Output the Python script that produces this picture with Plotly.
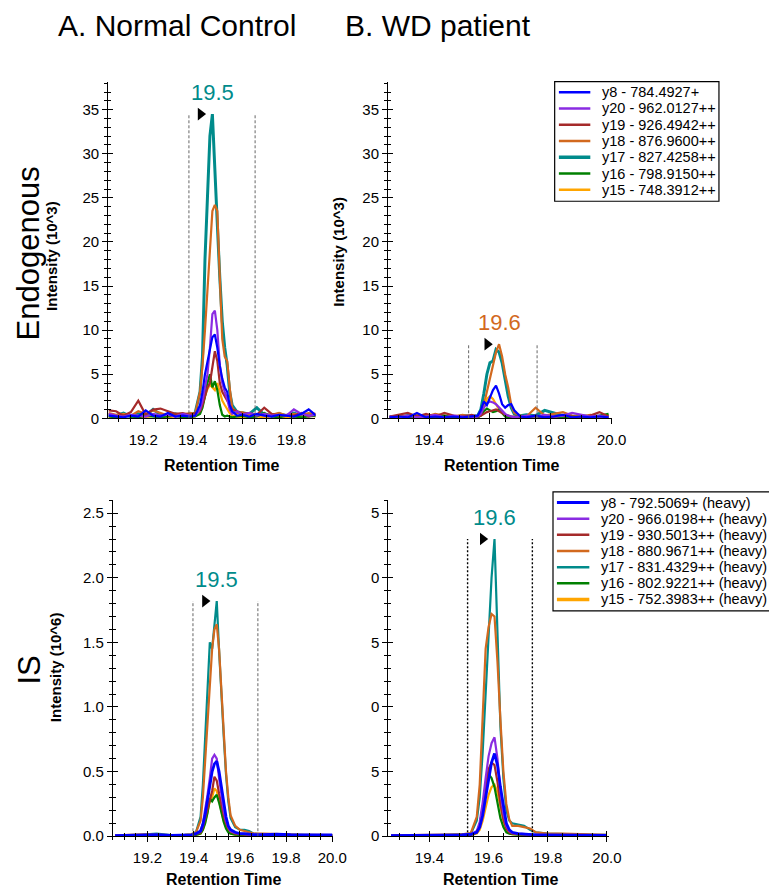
import plotly.graph_objects as go

W, H = 777, 891
FONT = "Arial, Liberation Sans, sans-serif"

# transitions (Skyline colour order)
ions_endo = ["y8 - 784.4927+", "y20 - 962.0127++", "y19 - 926.4942++", "y18 - 876.9600++",
             "y17 - 827.4258++", "y16 - 798.9150++", "y15 - 748.3912++"]
ions_is = ["y8 - 792.5069+ (heavy)", "y20 - 966.0198++ (heavy)", "y19 - 930.5013++ (heavy)",
           "y18 - 880.9671++ (heavy)", "y17 - 831.4329++ (heavy)", "y16 - 802.9221++ (heavy)",
           "y15 - 752.3983++ (heavy)"]
ion_colors = ["#0000FF", "#8A2BE2", "#A52A2A", "#D2691E", "#008B8B", "#008000", "#FFA500"]

# ---- A. Normal control, endogenous (10^3)
endo_nc_time = [19.06, 19.09, 19.12, 19.15, 19.18, 19.21, 19.24, 19.27, 19.30, 19.33, 19.36, 19.39,
                19.41, 19.43, 19.44, 19.45, 19.46, 19.47, 19.48, 19.49, 19.50, 19.51, 19.52, 19.53,
                19.54, 19.55, 19.56, 19.58, 19.60, 19.63, 19.66, 19.69, 19.72, 19.75, 19.78, 19.81,
                19.84, 19.87, 19.90]
endo_nc_y8 = [0.3, 0.2, 0.1, 0.3, 0.2, 0.9, 0.3, 0.2, 0.6, 0.2, 0.3, 0.2,
              0.3, 1.5, 3.0, 5.0, 6.5, 8.0, 9.2, 9.5, 8.0, 6.0, 4.5, 3.5, 3.0, 1.5, 0.8,
              0.3, 0.4, 0.2, 0.5, 0.3, 0.2, 0.4, 0.3, 0.2, 0.5, 1.0, 0.3]
endo_nc_y20 = [0.5, 0.3, 0.2, 0.4, 0.3, 0.2, 0.5, 0.3, 0.4, 0.2, 0.5, 0.3,
               0.3, 1.0, 2.0, 3.5, 5.0, 8.0, 11.8, 12.2, 10.0, 6.0, 4.0, 3.0, 2.2, 1.0, 0.5,
               0.8, 0.4, 0.6, 0.3, 0.5, 0.3, 0.4, 0.3, 1.0, 0.5, 0.3, 0.4]
endo_nc_y19 = [0.9, 0.8, 0.3, 0.7, 2.0, 0.4, 1.0, 1.1, 0.8, 0.5, 0.6, 0.4,
               0.6, 0.8, 1.5, 2.5, 3.5, 4.0, 6.0, 7.6, 6.5, 4.0, 3.0, 2.5, 2.0, 1.5, 1.0,
               0.8, 0.5, 0.6, 0.4, 1.2, 0.5, 0.3, 0.4, 0.3, 0.6, 0.2, 0.5]
endo_nc_y18 = [0.6, 0.4, 0.5, 0.3, 0.8, 0.5, 0.9, 0.6, 0.3, 0.5, 0.4, 0.6,
               0.5, 3.0, 6.0, 10.0, 15.0, 20.0, 23.5, 24.2, 23.5, 16.0, 9.0, 7.0, 6.5, 3.5, 1.2,
               0.6, 0.7, 0.4, 0.3, 0.5, 0.4, 0.6, 0.3, 0.5, 0.4, 0.6, 0.5]
endo_nc_y17 = [0.4, 0.3, 0.6, 0.2, 0.5, 0.3, 1.0, 0.4, 0.3, 0.5, 0.3, 0.4,
               0.6, 3.0, 7.0, 18.0, 25.0, 32.0, 34.5, 29.0, 22.0, 16.0, 11.0, 8.0, 6.0, 3.0, 1.5,
               0.7, 0.6, 0.5, 1.2, 0.4, 0.3, 0.5, 0.3, 0.6, 0.3, 0.4, 0.3]
endo_nc_y16 = [0.2, 0.1, 0.3, 0.2, 0.1, 0.3, 0.2, 0.1, 0.2, 0.3, 0.1, 0.2,
               0.2, 0.5, 1.2, 2.5, 4.0, 5.0, 3.5, 4.2, 3.2, 1.5, 0.4, 0.2, 0.3, 0.2, 0.1,
               0.2, 0.3, 0.1, 0.2, 0.6, 0.2, 0.1, 0.3, 0.2, 0.1, 0.2, 0.3]
endo_nc_y15 = [0.1, 0.2, 0.4, 0.3, 0.2, 0.1, 0.3, 0.2, 0.1, 0.2, 0.3, 0.1,
               0.2, 0.8, 1.5, 2.5, 3.3, 3.8, 3.5, 3.2, 4.0, 3.0, 2.0, 1.5, 1.0, 0.6, 0.3,
               0.2, 0.1, 0.3, 0.2, 0.1, 0.2, 0.3, 0.1, 0.2, 0.1, 0.3, 0.2]

# ---- B. WD patient, endogenous (10^3)
endo_wd_time = [19.27, 19.30, 19.33, 19.36, 19.39, 19.42, 19.45, 19.48, 19.51, 19.54,
                19.56, 19.57, 19.58, 19.59, 19.60, 19.61, 19.62, 19.63, 19.64, 19.65, 19.66,
                19.67, 19.68, 19.70, 19.72, 19.75, 19.78, 19.81, 19.84, 19.87, 19.90, 19.93,
                19.96, 19.99]
endo_wd_y8 = [0.1, 0.2, 0.1, 0.6, 0.1, 0.2, 0.1, 0.2, 0.1, 0.2,
              0.3, 0.9, 1.9, 1.5, 2.3, 3.2, 3.7, 2.8, 1.6, 1.2, 1.5, 1.6, 0.9, 0.2,
              0.1, 0.3, 0.1, 0.2, 0.4, 0.1, 0.2, 0.1, 0.2, 0.1]
endo_wd_y20 = [0.2, 0.1, 0.3, 0.1, 0.2, 0.4, 0.1, 0.3, 0.2, 0.1,
               0.2, 0.5, 1.2, 1.7, 1.9, 1.8, 1.6, 1.2, 0.8, 0.5, 0.3, 0.2, 0.1, 0.2,
               0.3, 0.2, 0.4, 0.2, 0.3, 0.6, 0.4, 0.2, 0.3, 0.1]
endo_wd_y19 = [0.2, 0.4, 0.6, 0.2, 0.5, 0.2, 0.6, 0.3, 0.2, 0.4,
               0.2, 0.3, 0.5, 0.7, 0.8, 0.9, 1.0, 0.8, 0.6, 0.4, 0.3, 0.2, 0.2, 0.1,
               0.2, 0.3, 0.1, 0.2, 0.3, 0.2, 0.1, 0.3, 0.7, 0.2]
endo_wd_y18 = [0.1, 0.3, 0.2, 0.4, 0.2, 0.5, 0.3, 0.2, 0.4, 0.2,
               0.2, 0.5, 1.5, 3.0, 4.5, 6.0, 7.5, 8.4, 7.0, 5.0, 3.5, 1.5, 0.6, 0.3,
               0.2, 1.2, 0.3, 0.5, 0.7, 0.3, 0.2, 0.4, 0.2, 0.3]
endo_wd_y17 = [0.2, 0.1, 0.3, 0.2, 0.1, 0.3, 0.2, 0.1, 0.3, 0.2,
               0.3, 1.0, 2.8, 5.0, 6.3, 6.5, 7.8, 7.5, 6.3, 4.5, 2.5, 1.2, 0.5, 0.3,
               0.4, 0.3, 0.9, 0.6, 0.3, 0.2, 0.3, 0.2, 0.1, 0.2]
endo_wd_y16 = [0.1, 0.2, 0.1, 0.1, 0.2, 0.1, 0.3, 0.1, 0.2, 0.1,
               0.1, 0.3, 0.8, 1.1, 0.9, 0.7, 0.8, 1.0, 0.6, 0.2, 0.1, 0.1, 0.1, 0.2,
               0.1, 0.2, 0.1, 0.2, 0.1, 0.2, 0.1, 0.2, 0.3, 0.5]
endo_wd_y15 = [0.1, 0.1, 0.2, 0.1, 0.2, 0.1, 0.1, 0.2, 0.1, 0.1,
               0.1, 0.4, 1.2, 2.2, 2.5, 2.2, 1.6, 1.0, 0.6, 0.4, 0.2, 0.1, 0.1, 0.1,
               0.2, 0.1, 0.2, 0.1, 0.1, 0.2, 0.1, 0.1, 0.2, 0.1]

# ---- A. Normal control, internal standard (10^6)
is_nc_time = [19.06, 19.12, 19.18, 19.24, 19.30, 19.36, 19.39, 19.41,
              19.43, 19.44, 19.45, 19.46, 19.47, 19.48, 19.49, 19.50, 19.51, 19.52, 19.53,
              19.54, 19.55, 19.56, 19.58, 19.60, 19.62, 19.64, 19.66, 19.70, 19.76, 19.82,
              19.88, 19.94, 20.00]
is_nc_y8 = [0.005, 0.008, 0.01, 0.012, 0.006, 0.008, 0.01, 0.02,
            0.04, 0.09, 0.17, 0.28, 0.40, 0.50, 0.56, 0.58, 0.50, 0.37, 0.25, 0.15, 0.08, 0.05,
            0.03, 0.02, 0.02, 0.015, 0.012, 0.012, 0.015, 0.012, 0.01, 0.01, 0.01]
is_nc_y20 = [0.005, 0.006, 0.008, 0.006, 0.005, 0.007, 0.01, 0.02,
             0.04, 0.10, 0.20, 0.32, 0.45, 0.60, 0.63, 0.60, 0.45, 0.32, 0.20, 0.12, 0.07, 0.04,
             0.025, 0.02, 0.015, 0.012, 0.01, 0.01, 0.008, 0.008, 0.007, 0.006, 0.006]
is_nc_y19 = [0.004, 0.005, 0.006, 0.005, 0.004, 0.006, 0.008, 0.015,
             0.03, 0.07, 0.14, 0.22, 0.28, 0.35, 0.46, 0.43, 0.33, 0.24, 0.16, 0.10, 0.06, 0.035,
             0.02, 0.015, 0.012, 0.01, 0.008, 0.008, 0.007, 0.006, 0.006, 0.005, 0.005]
is_nc_y18 = [0.006, 0.01, 0.015, 0.012, 0.008, 0.01, 0.015, 0.03,
             0.12, 0.30, 0.60, 0.90, 1.20, 1.45, 1.60, 1.64, 1.45, 1.12, 0.80, 0.50, 0.30, 0.16,
             0.08, 0.05, 0.04, 0.03, 0.02, 0.02, 0.015, 0.012, 0.01, 0.01, 0.008]
is_nc_y17 = [0.005, 0.008, 0.012, 0.02, 0.008, 0.01, 0.015, 0.03,
             0.15, 0.40, 0.75, 1.10, 1.50, 1.45, 1.62, 1.82, 1.44, 1.08, 0.78, 0.48, 0.27, 0.14,
             0.07, 0.05, 0.05, 0.04, 0.02, 0.015, 0.012, 0.01, 0.01, 0.008, 0.008]
is_nc_y16 = [0.003, 0.004, 0.005, 0.004, 0.003, 0.004, 0.006, 0.01,
             0.02, 0.05, 0.10, 0.18, 0.29, 0.27, 0.30, 0.32, 0.26, 0.18, 0.11, 0.06, 0.03, 0.02,
             0.012, 0.01, 0.008, 0.007, 0.006, 0.005, 0.005, 0.004, 0.004, 0.004, 0.004]
is_nc_y15 = [0.003, 0.004, 0.005, 0.004, 0.003, 0.004, 0.006, 0.01,
             0.02, 0.05, 0.11, 0.19, 0.27, 0.30, 0.37, 0.35, 0.27, 0.19, 0.12, 0.07, 0.04, 0.02,
             0.012, 0.01, 0.008, 0.007, 0.006, 0.005, 0.005, 0.004, 0.004, 0.004, 0.004]

# ---- B. WD patient, internal standard (10^6)
is_wd_time = [19.27, 19.33, 19.39, 19.45, 19.51, 19.54,
              19.56, 19.57, 19.58, 19.59, 19.60, 19.61, 19.62, 19.63, 19.64, 19.65, 19.66,
              19.67, 19.68, 19.70, 19.72, 19.74, 19.76, 19.80, 19.85, 19.90, 19.95, 20.00]
is_wd_y8 = [0.005, 0.006, 0.005, 0.008, 0.01, 0.015,
            0.03, 0.07, 0.16, 0.30, 0.45, 0.57, 0.64, 0.55, 0.38, 0.22, 0.10, 0.05, 0.03,
            0.02, 0.015, 0.012, 0.01, 0.01, 0.008, 0.008, 0.007, 0.006]
is_wd_y20 = [0.004, 0.005, 0.005, 0.007, 0.01, 0.015,
             0.04, 0.11, 0.26, 0.45, 0.62, 0.72, 0.765, 0.60, 0.35, 0.18, 0.08, 0.04, 0.025,
             0.02, 0.015, 0.012, 0.01, 0.008, 0.008, 0.007, 0.006, 0.006]
is_wd_y19 = [0.003, 0.004, 0.004, 0.006, 0.008, 0.012,
             0.03, 0.09, 0.22, 0.38, 0.52, 0.57, 0.55, 0.42, 0.25, 0.13, 0.06, 0.03, 0.02,
             0.015, 0.012, 0.01, 0.008, 0.007, 0.006, 0.005, 0.005, 0.005]
is_wd_y18 = [0.006, 0.008, 0.006, 0.01, 0.015, 0.025,
             0.15, 0.40, 0.90, 1.45, 1.62, 1.72, 1.70, 1.35, 0.90, 0.50, 0.25, 0.13, 0.08,
             0.08, 0.07, 0.06, 0.03, 0.02, 0.02, 0.015, 0.012, 0.01]
is_wd_y17 = [0.005, 0.006, 0.008, 0.01, 0.015, 0.02,
             0.12, 0.30, 0.65, 1.10, 1.60, 2.00, 2.30, 1.55, 0.85, 0.45, 0.20, 0.12, 0.10,
             0.09, 0.08, 0.05, 0.03, 0.02, 0.015, 0.012, 0.01, 0.01]
is_wd_y16 = [0.003, 0.004, 0.004, 0.005, 0.007, 0.01,
             0.03, 0.09, 0.22, 0.38, 0.48, 0.45, 0.38, 0.26, 0.14, 0.07, 0.03, 0.02, 0.015,
             0.012, 0.01, 0.008, 0.007, 0.006, 0.005, 0.005, 0.004, 0.004]
is_wd_y15 = [0.003, 0.004, 0.004, 0.005, 0.006, 0.008,
             0.02, 0.05, 0.12, 0.22, 0.32, 0.38, 0.40, 0.34, 0.22, 0.12, 0.05, 0.025, 0.015,
             0.012, 0.01, 0.008, 0.007, 0.006, 0.005, 0.005, 0.004, 0.004]

# peak picks: retention-time label, apex time, apex height, label colour index
peak_labels = ["19.5", "19.6", "19.5", "19.6"]
peak_rt = [19.48, 19.63, 19.50, 19.62]
peak_height = [34.5, 8.4, 1.82, 2.30]
peak_color_idx = [4, 3, 4, 4]
# integration boundaries
bound_start = [19.385, 19.53, 19.397, 19.529]
bound_end = [19.653, 19.755, 19.678, 19.748]


def px_x(p):
    return p / W


def px_y(p):
    return 1 - p / H


# panel geometry in pixels: (left, right, top, bottom), axis ranges
panels = [
    dict(time=endo_nc_time, ys=[endo_nc_y8, endo_nc_y20, endo_nc_y19, endo_nc_y18, endo_nc_y17, endo_nc_y16, endo_nc_y15],
         box=(102, 313, 75, 414), xr=[19.058, 19.897], yr=[0, 38.1], heavy=False),
    dict(time=endo_wd_time, ys=[endo_wd_y8, endo_wd_y20, endo_wd_y19, endo_wd_y18, endo_wd_y17, endo_wd_y16, endo_wd_y15],
         box=(387, 615, 75, 414), xr=[19.265, 20.001], yr=[0, 38.1], heavy=False),
    dict(time=is_nc_time, ys=[is_nc_y8, is_nc_y20, is_nc_y19, is_nc_y18, is_nc_y17, is_nc_y16, is_nc_y15],
         box=(106.7, 330.7, 496.7, 835.7), xr=[19.05, 20.002], yr=[0, 2.6], heavy=True),
    dict(time=is_wd_time, ys=[is_wd_y8, is_wd_y20, is_wd_y19, is_wd_y18, is_wd_y17, is_wd_y16, is_wd_y15],
         box=(387.3, 612, 496.7, 835.7), xr=[19.261, 20.007], yr=[0, 2.6], heavy=True),
]

draw_order = [4, 3, 6, 5, 2, 1, 0]

fig = go.Figure()
shapes = []
annotations = []

for k, p in enumerate(panels):
    sfx = "" if k == 0 else str(k + 1)
    xa, ya = "x" + sfx, "y" + sfx
    for i in draw_order:
        if p["heavy"]:
            w = 2.8 if i == 0 else 2.2
        else:
            w = 3 if i == 4 else 2.2
        fig.add_trace(go.Scatter(x=p["time"], y=p["ys"][i], mode="lines",
                                 line=dict(color=ion_colors[i], width=w),
                                 xaxis=xa, yaxis=ya, showlegend=False, hoverinfo="skip"))
    # boundaries
    dash_style = dict(color="#000000", width=1.4, dash="2px,2px") if k == 3 else dict(color="#666666", width=1, dash="3px,2px")
    for b in (bound_start[k], bound_end[k]):
        shapes.append(dict(type="line", xref=xa, yref=ya, x0=b, x1=b, y0=0, y1=peak_height[k], line=dash_style))
    # peak marker and label
    left, right, top, bottom = p["box"]
    dx = 12 * (p["xr"][1] - p["xr"][0]) / (right - left)
    fig.add_trace(go.Scatter(x=[peak_rt[k] - dx], y=[peak_height[k]], mode="markers",
                             marker=dict(symbol="triangle-right", size=11, color="black"),
                             xaxis=xa, yaxis=ya, showlegend=False, hoverinfo="skip"))
    annotations.append(dict(x=peak_rt[k], y=peak_height[k], xref=xa, yref=ya, text=peak_labels[k],
                            showarrow=False, yshift=22, font=dict(family=FONT, size=22, color=ion_colors[peak_color_idx[k]])))
    # empty trace on the overlay axes that draw the inner half of crossing ticks
    fig.add_trace(go.Scatter(x=[None], y=[None], mode="lines", xaxis="x%d" % (k + 5), yaxis="y%d" % (k + 5),
                             showlegend=False, hoverinfo="skip"))

axis_common = dict(showline=True, linecolor="black", linewidth=1, ticks="outside", ticklen=5,
                   tickcolor="black", showgrid=False, zeroline=False,
                   tickfont=dict(family=FONT, size=15, color="black"))
inner_common = dict(showline=False, ticks="inside", ticklen=5, tickcolor="black", showgrid=False,
                    zeroline=False, showticklabels=False)
layout = dict(width=W, height=H, margin=dict(l=0, r=0, t=0, b=0),
              plot_bgcolor="white", paper_bgcolor="white", showlegend=False)

for k, p in enumerate(panels):
    sfx = "" if k == 0 else str(k + 1)
    left, right, top, bottom = p["box"]
    xtick = dict(dtick=0.2, tick0=19.0)
    xminor = dict(dtick=0.05, ticklen=3, tickcolor="black")
    if p["heavy"]:
        ytick = dict(dtick=0.5, tick0=0, tickformat=".1f")
        yminor = dict(dtick=0.1, ticklen=3, tickcolor="black")
    else:
        ytick = dict(dtick=5, tick0=0)
        yminor = dict(dtick=1, ticklen=3, tickcolor="black")
    xax = dict(axis_common, domain=[px_x(left), px_x(right)], range=p["xr"], anchor="y" + sfx,
               tickformat=".1f", ticklabelstandoff=3, minor=dict(xminor, ticks="outside"), **xtick)
    yax = dict(axis_common, domain=[px_y(bottom), px_y(top)], range=p["yr"], anchor="x" + sfx,
               minor=dict(yminor, ticks="outside"), **ytick)
    if k == 3:
        yax["tickvals"] = [0, 0.5, 1.0, 1.5, 2.0, 2.5]
        yax["ticktext"] = ["0", "5", "0", "5", "0", "5"]
    layout["xaxis" + sfx] = xax
    layout["yaxis" + sfx] = yax
    # overlay axes: inner half of the crossing ticks
    n = k + 5
    layout["xaxis%d" % n] = dict(inner_common, domain=[px_x(left), px_x(right)], range=p["xr"],
                                 anchor="y%d" % n, overlaying="x" + sfx,
                                 minor=dict(xminor, ticks="inside"), **xtick)
    layout["yaxis%d" % n] = dict(inner_common, domain=[px_y(bottom), px_y(top)], range=p["yr"],
                                 anchor="x%d" % n, overlaying="y" + sfx,
                                 minor=dict(yminor, ticks="inside"), **ytick)


# titles
def label(text, x, y, size, bold=False, angle=0):
    t = "<b>%s</b>" % text if bold else text
    annotations.append(dict(x=px_x(x), y=px_y(y), xref="paper", yref="paper", text=t, showarrow=False,
                            textangle=angle, xanchor="center", yanchor="middle",
                            font=dict(family=FONT, size=size, color="black")))


label("A. Normal Control", 172, 18, 30)
label("B. WD patient", 437.5, 18, 30)
label("Endogenous", 21, 248, 31, angle=-90)
label("IS", 21, 668, 31, angle=-90)
label("Intensity (10^3)", 45, 250, 15, bold=True, angle=-90)
label("Intensity (10^3)", 337, 246, 15, bold=True, angle=-90)
label("Intensity (10^6)", 48, 665, 15, bold=True, angle=-90)
for cx, cy in [(217, 462), (503, 462), (219, 879), (502, 879)]:
    label("Retention Time", cx, cy, 16, bold=True)


# legends (drawn as boxes with line samples)
def legend(names, x0, x1, y0, y1, row0, step, line_x0, line_x1, text_x, widths):
    shapes.append(dict(type="rect", xref="paper", yref="paper", x0=px_x(x0), x1=px_x(x1),
                       y0=px_y(y1), y1=px_y(y0), line=dict(color="black", width=1.2), fillcolor="white"))
    for i, name in enumerate(names):
        yy = row0 + i * step
        shapes.append(dict(type="line", xref="paper", yref="paper", x0=px_x(line_x0), x1=px_x(line_x1),
                           y0=px_y(yy), y1=px_y(yy), line=dict(color=ion_colors[i], width=widths[i])))
        annotations.append(dict(x=px_x(text_x), y=px_y(yy), xref="paper", yref="paper", text=name,
                                showarrow=False, xanchor="left", yanchor="middle",
                                font=dict(family=FONT, size=14.5, color="black")))


legend(ions_endo, 556.7, 724, 74.3, 195, 85, 16.4, 561, 593, 603, [2.5, 2.5, 2.5, 2.5, 3.5, 2.5, 2.5])
legend(ions_is, 555, 776.5, 488.3, 608.3, 499, 16.3, 559, 592, 602, [3, 2.5, 2.5, 2.5, 2.5, 2.5, 3.5])

layout["shapes"] = shapes
layout["annotations"] = annotations
fig.update_layout(**layout)

fig.write_html("out.html")
